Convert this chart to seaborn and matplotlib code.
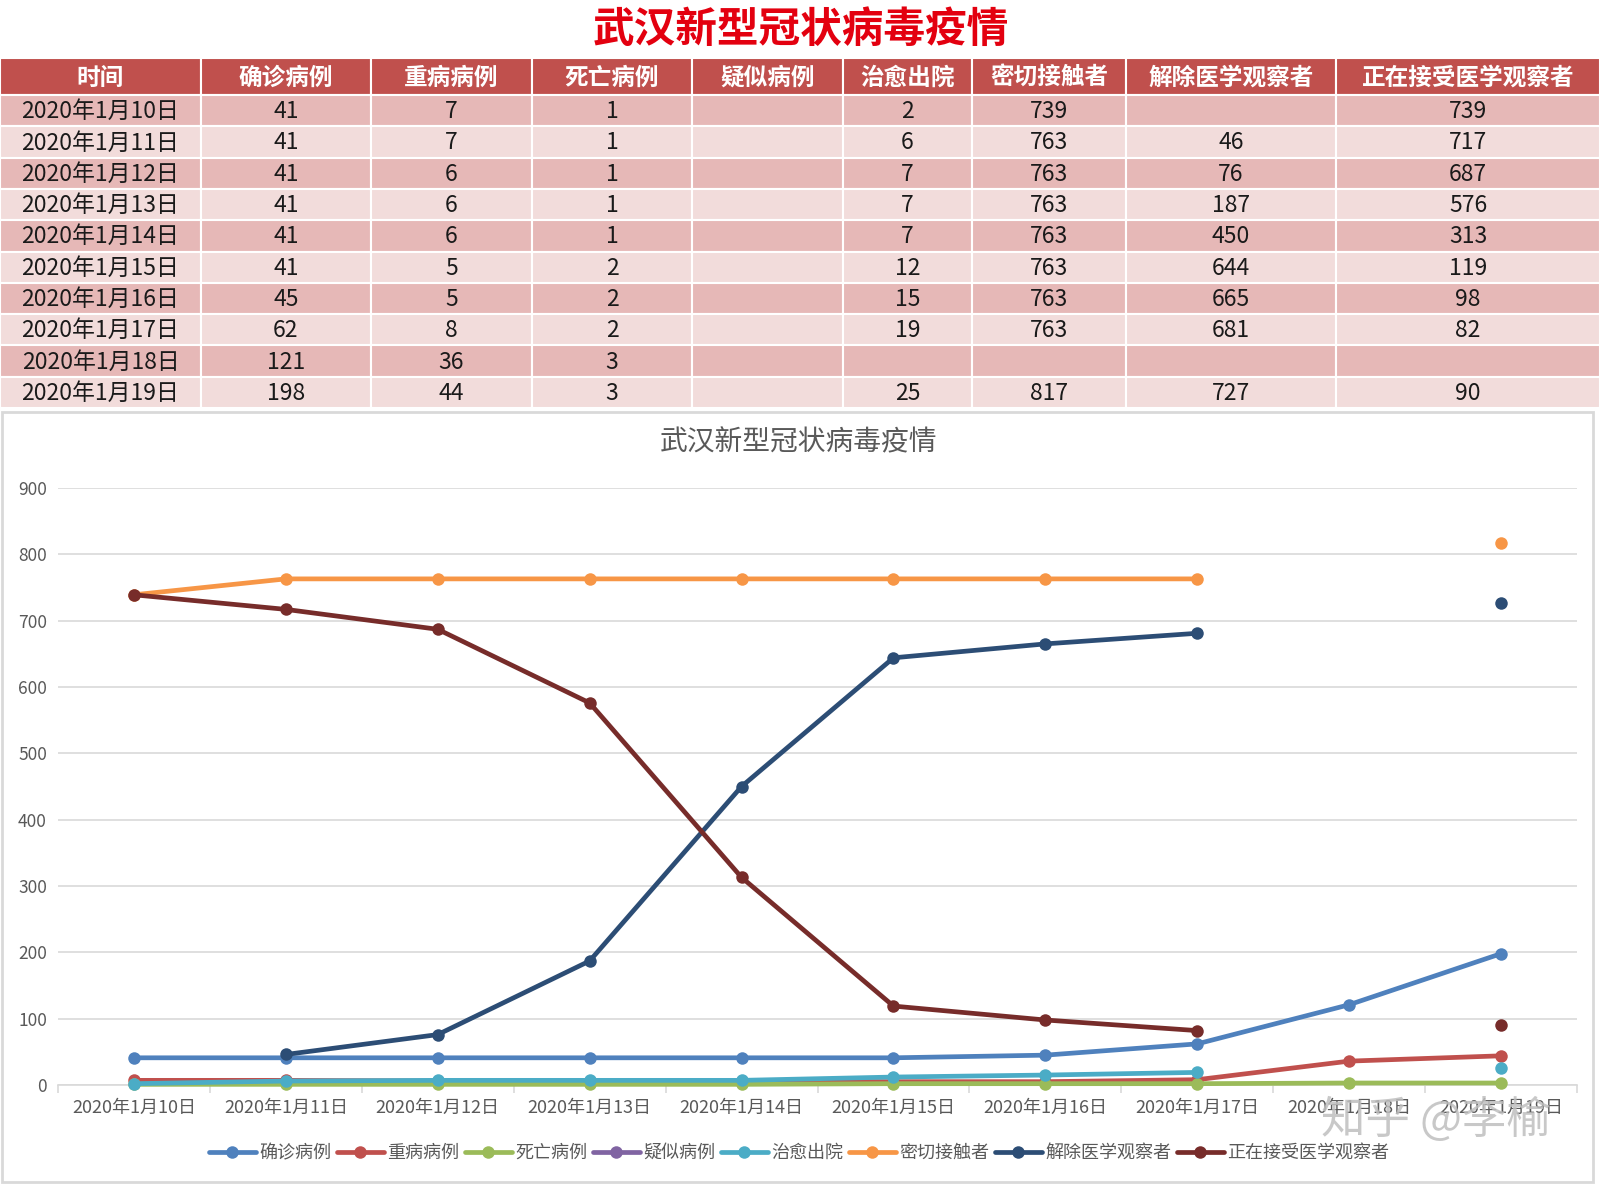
import numpy as np
import pandas as pd
import matplotlib
matplotlib.use("Agg")
import matplotlib.pyplot as plt
from matplotlib.patches import Rectangle
from matplotlib.lines import Line2D
import seaborn as sns

# ---------------- data ----------------
dates = ["2020年1月10日", "2020年1月11日", "2020年1月12日", "2020年1月13日", "2020年1月14日",
         "2020年1月15日", "2020年1月16日", "2020年1月17日", "2020年1月18日", "2020年1月19日"]
columns = ["时间", "确诊病例", "重病病例", "死亡病例", "疑似病例", "治愈出院",
           "密切接触者", "解除医学观察者", "正在接受医学观察者"]
confirmed = [41, 41, 41, 41, 41, 41, 45, 62, 121, 198]
severe = [7, 7, 6, 6, 6, 5, 5, 8, 36, 44]
deaths = [1, 1, 1, 1, 1, 2, 2, 2, 3, 3]
suspected = [None] * 10
cured = [2, 6, 7, 7, 7, 12, 15, 19, None, 25]
close_contacts = [739, 763, 763, 763, 763, 763, 763, 763, None, 817]
released = [None, 46, 76, 187, 450, 644, 665, 681, None, 727]
under_obs = [739, 717, 687, 576, 313, 119, 98, 82, None, 90]
yticks = [0, 100, 200, 300, 400, 500, 600, 700, 800, 900]

series = [confirmed, severe, deaths, suspected, cured, close_contacts, released, under_obs]
series_names = columns[1:]
colors = ["#4F81BD", "#C0504D", "#9BBB59", "#8064A2", "#4BACC6", "#F79646", "#2C4D75", "#772C2A"]

title = "武汉新型冠状病毒疫情"
watermark = "知乎 @李榆"

# ---------------- style ----------------
sns.set_theme(style="white")
plt.rcParams['font.family'] = ['Noto Sans CJK SC', 'DejaVu Sans']

W, H = 1600, 1184
fig = plt.figure(figsize=(W / 100, H / 100), dpi=100)

# background / table axes in pixel coordinates
bg = fig.add_axes([0, 0, 1, 1])
bg.set_xlim(0, W)
bg.set_ylim(H, 0)
bg.axis("off")

# page title
bg.text(801, 30, title, ha="center", va="center", fontsize=30, fontweight="bold", color="#E3000F")

# table
col_edges = [0, 201, 371, 532, 692, 843, 972, 1126, 1336, 1600]
header_top, header_bot = 58, 95
row_h = (408 - header_bot) / len(dates)
for j, name in enumerate(columns):
    x0, x1 = col_edges[j], col_edges[j + 1]
    bg.add_patch(Rectangle((x0, header_top), x1 - x0, header_bot - header_top,
                           facecolor="#C0504D", edgecolor="white", lw=1.5))
    bg.text((x0 + x1) / 2, (header_top + header_bot) / 2 + 1, name, ha="center", va="center",
            fontsize=17, fontweight="bold", color="white")

table_cols = [dates] + series
for i in range(len(dates)):
    y0 = header_bot + i * row_h
    fc = "#E6B8B7" if i % 2 == 0 else "#F2DCDB"
    for j, col in enumerate(table_cols):
        x0, x1 = col_edges[j], col_edges[j + 1]
        bg.add_patch(Rectangle((x0, y0), x1 - x0, row_h, facecolor=fc, edgecolor="white", lw=1.5))
        v = col[i]
        if v is not None:
            bg.text((x0 + x1) / 2, y0 + row_h / 2 + 1, str(v), ha="center", va="center",
                    fontsize=16.5, color="#1a1a1a")

# chart border
bg.add_patch(Rectangle((2, 412), 1591, 770, facecolor="none", edgecolor="#D9D9D9", lw=2))
bg.text(799, 442, title, ha="center", va="center", fontsize=20, color="#595959")

# ---------------- chart ----------------
ax_l, ax_r, ax_t, ax_b = 58, 1577, 488, 1085
ax = fig.add_axes([ax_l / W, 1 - ax_b / H, (ax_r - ax_l) / W, (ax_b - ax_t) / H])
ax.set_facecolor("none")

x_idx = np.arange(len(dates))
for name, vals, c in zip(series_names, series, colors):
    v = np.array([np.nan if a is None else a for a in vals], dtype=float)
    seg = np.cumsum(np.isnan(v))
    df = pd.DataFrame({"x": x_idx, "v": v, "seg": seg}).dropna()
    if df.empty:
        continue
    sns.lineplot(data=df, x="x", y="v", units="seg", estimator=None, sort=False,
                 color=c, lw=3.4, marker="o", markersize=9, markeredgewidth=0,
                 legend=False, ax=ax, clip_on=False, zorder=3)

ax.set_xlim(-0.5, len(dates) - 0.5)
ax.set_ylim(0, 900)
ax.set_yticks(yticks)
ax.set_xticks(x_idx)
ax.set_xticklabels(dates)
ax.set_xticks(np.arange(-0.5, len(dates)), minor=True)
ax.set_xlabel("")
ax.set_ylabel("")
ax.grid(axis="y", color="#D9D9D9", lw=1.2, zorder=0)
ax.grid(axis="x", visible=False)
for s in ["top", "right", "left"]:
    ax.spines[s].set_visible(False)
ax.spines["bottom"].set_color("#D9D9D9")
ax.spines["bottom"].set_linewidth(1.2)
ax.tick_params(axis="y", length=0, pad=8, labelsize=12.5, labelcolor="#595959")
ax.tick_params(axis="x", which="major", length=0, pad=10, labelsize=13, labelcolor="#595959")
ax.tick_params(axis="x", which="minor", length=6, width=1.2, color="#D9D9D9", bottom=True)

handles = [Line2D([0], [0], color=c, lw=3.4, marker="o", markersize=9, markeredgewidth=0)
           for c in colors]
fig.legend(handles, series_names, loc="center", bbox_to_anchor=(799 / W, 1 - 1153 / H),
           ncol=8, frameon=False, fontsize=13, handlelength=2.6, handletextpad=0.2,
           columnspacing=0.3, labelcolor="#595959")

bg2 = fig.add_axes([0, 0, 1, 1], zorder=10)
bg2.set_xlim(0, W)
bg2.set_ylim(H, 0)
bg2.axis("off")
bg2.text(1436, 1120, watermark, ha="center", va="center", fontsize=32,
         color="#BFBFBF", alpha=0.85)

fig.savefig("out.png", dpi=100)
